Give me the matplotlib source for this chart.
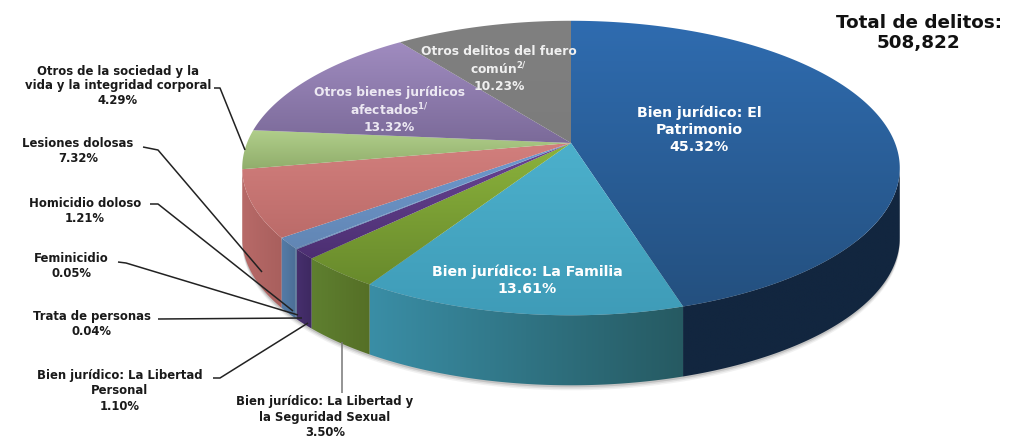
import matplotlib
matplotlib.use('Agg')
import matplotlib.pyplot as plt
import numpy as np
from matplotlib.patches import Polygon
from matplotlib.colors import LinearSegmentedColormap

plt.rcParams['font.family'] = ['DejaVu Sans']
plt.rcParams['mathtext.fontset'] = 'custom'
plt.rcParams['mathtext.rm'] = 'DejaVu Sans:bold'
plt.rcParams['mathtext.default'] = 'rm'

names = ['Patrimonio', 'Familia', 'Sexual', 'Personal', 'Trata', 'Feminicidio',
         'Homicidio', 'Lesiones', 'Sociedad', 'Bienes', 'Otros']
values = [45.32, 13.61, 3.50, 1.10, 0.04, 0.05, 1.21, 7.32, 4.29, 13.32, 10.23]
top_light = ['#2f6cb0', '#4cb0cc', '#8cb33c', '#6a4595', '#4f81bd', '#4f81bd',
             '#6f9ad0', '#d27f7d', '#b1cf8b', '#a08cc0', '#808080']
top_dark = ['#24507f', '#3f9cb8', '#688a2c', '#4c2f72', '#4a75aa', '#4a75aa',
            '#6286b4', '#bb6b69', '#90ad6b', '#7b6a99', '#7c7c7c']
side_left = ['#12263f', '#3a8ea6', '#5f8030', '#47306e', '#456c9c', '#456c9c',
             '#557ca8', '#b86a68', '#9db87a', '#7b6a99', '#707070']
side_right = ['#12263f', '#265a62', '#556f26', '#3d2860', '#3d5f8a', '#3d5f8a',
              '#4a6d94', '#a85f5d', '#8aa566', '#6b5a88', '#606060']

cx, cy = 571, 143
ax_r, by_r, k = 324, 143, 0.17
depth = 70

fig = plt.figure(figsize=(10.1, 4.4), dpi=100)
ax = fig.add_axes([0, 0, 1, 1])


def proj(theta):
    u = np.sin(theta)
    v = np.cos(theta)
    s = 1 / (1 + k * v)
    return cx + ax_r * u * s, cy - by_r * v * s


angles = np.cumsum([0] + values) / sum(values) * 2 * np.pi
front0 = np.arccos(-k)
front1 = 2 * np.pi - front0

# soft shadow under the rim
th = np.linspace(front0, front1, 300)
sx, sy = proj(th)
for off, a in [(5, 0.08), (3.5, 0.12), (2, 0.2)]:
    ax.add_patch(Polygon(np.c_[sx, sy + depth + off], closed=True, fc='#555555',
                         ec='none', alpha=a, zorder=1))


def fill_gradient(pts, c0, c1, vertical, z):
    poly = Polygon(pts, closed=True, fc='none', ec='none', zorder=z)
    ax.add_patch(poly)
    cmap = LinearSegmentedColormap.from_list('g', [c0, c1])
    grad = np.linspace(0, 1, 128)
    grad = grad.reshape(-1, 1) if vertical else grad.reshape(1, -1)
    im = ax.imshow(grad, cmap=cmap, aspect='auto', zorder=z, interpolation='bilinear',
                   extent=[pts[:, 0].min() - 1, pts[:, 0].max() + 1,
                           pts[:, 1].max() + 1, pts[:, 1].min() - 1])
    im.set_clip_path(poly)


# rim, only the part that faces the viewer
for i in range(len(values)):
    t0, t1 = max(angles[i], front0), min(angles[i + 1], front1)
    if t1 <= t0:
        continue
    ts = np.linspace(t0, t1, max(int((t1 - t0) * 80), 2))
    xs, ys = proj(ts)
    pts = np.r_[np.c_[xs, ys], np.c_[xs, ys + depth][::-1]]
    fill_gradient(pts, side_left[i], side_right[i], False, 2 + i * 0.01)

# top face
for i in range(len(values)):
    ts = np.linspace(angles[i], angles[i + 1], max(int((angles[i + 1] - angles[i]) * 80), 2))
    xs, ys = proj(ts)
    pts = np.r_[[[cx, cy]], np.c_[xs, ys]]
    fill_gradient(pts, top_light[i], top_dark[i], True, 3)

ax.set_xlim(0, 1010)
ax.set_ylim(440, 0)
ax.axis('off')

# leader lines
leaders = [
    ([214, 220, 245], [88, 88, 150]),
    ([143, 158, 262], [147, 150, 272]),
    ([150, 158, 293], [204, 204, 311]),
    ([118, 126, 298], [262, 263, 315]),
    ([158, 302], [319, 318]),
    ([213, 220, 308], [378, 378, 323]),
    ([342, 342], [342, 393]),
]
for lx, ly in leaders:
    c = '#777777' if lx[0] == 342 else '#222222'
    ax.plot(lx, ly, color=c, lw=1.1, zorder=4, solid_capstyle='butt')

black = '#1a1a1a'
labels = [
    (118, 86, 'Otros de la sociedad y la\nvida y la integridad corporal\n4.29%'),
    (78, 151, 'Lesiones dolosas\n7.32%'),
    (85, 211, 'Homicidio doloso\n1.21%'),
    (71, 266, 'Feminicidio\n0.05%'),
    (92, 324, 'Trata de personas\n0.04%'),
    (120, 391, 'Bien jurídico: La Libertad\nPersonal\n1.10%'),
    (325, 417, 'Bien jurídico: La Libertad y\nla Seguridad Sexual\n3.50%'),
]
for x, y, s in labels:
    ax.text(x, y, s, ha='center', va='center', fontsize=8.4, fontweight='bold',
            color=black, linespacing=1.2, zorder=5)

ax.text(919, 33, 'Total de delitos:\n508,822', ha='center', va='center', fontsize=13.2,
        fontweight='bold', color='#111111', linespacing=1.15, zorder=5)
ax.text(699, 130, 'Bien jurídico: El\nPatrimonio\n45.32%', ha='center', va='center',
        fontsize=10.2, fontweight='bold', color='white', linespacing=1.25, zorder=5)
ax.text(527, 280, 'Bien jurídico: La Familia\n13.61%', ha='center', va='center',
        fontsize=10.2, fontweight='bold', color='white', linespacing=1.3, zorder=5)
ax.text(389, 110, 'Otros bienes jurídicos\nafectados$^{1/}$\n13.32%', ha='center', va='center',
        fontsize=8.8, fontweight='bold', color='#ece8f2', linespacing=1.25, zorder=5)
ax.text(499, 69, 'Otros delitos del fuero\ncomún$^{2/}$\n10.23%', ha='center', va='center',
        fontsize=8.8, fontweight='bold', color='#f0f0f0', linespacing=1.25, zorder=5)

fig.savefig('out.png', dpi=100, facecolor='white')
